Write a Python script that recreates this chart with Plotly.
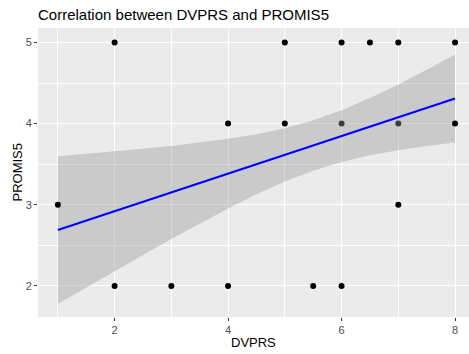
import plotly.graph_objects as go

# Observed points (DVPRS, PROMIS5)
dvprs = [2, 5, 6, 6.5, 7, 8, 4, 5, 8, 1, 7, 2, 3, 4, 5.5, 6]
promis5 = [5, 5, 5, 5, 5, 5, 4, 4, 4, 3, 3, 2, 2, 2, 2, 2]
# points that sit under the ribbon (look grey in the reference)
dvprs_under = [6, 7]
promis5_under = [4, 4]

# Linear fit and confidence band
fit_x = [1, 1.5, 2, 2.5, 3, 3.5, 4, 4.5, 5, 5.5, 6, 6.5, 7, 7.5, 8]
fit_y = [2.688, 2.804, 2.920, 3.036, 3.151, 3.267, 3.383, 3.499, 3.615, 3.730,
         3.846, 3.962, 4.078, 4.194, 4.310]
fit_upper = [3.598, 3.627, 3.658, 3.691, 3.725, 3.766, 3.813, 3.870, 3.944, 4.040,
             4.165, 4.314, 4.483, 4.664, 4.853]
fit_lower = [1.778, 1.981, 2.182, 2.381, 2.577, 2.768, 2.953, 3.128, 3.286, 3.420,
             3.527, 3.610, 3.673, 3.724, 3.767]

title = "Correlation between DVPRS and PROMIS5"
x_title = "DVPRS"
y_title = "PROMIS5"
font = "Liberation Sans, Arial, sans-serif"

fig = go.Figure()
fig.add_trace(go.Scatter(x=dvprs_under, y=promis5_under, mode="markers",
                         marker=dict(color="black", size=6), hoverinfo="skip"))
fig.add_trace(go.Scatter(x=fit_x, y=fit_lower, mode="lines", line=dict(width=0),
                         hoverinfo="skip"))
fig.add_trace(go.Scatter(x=fit_x, y=fit_upper, mode="lines", line=dict(width=0),
                         fill="tonexty", fillcolor="rgba(153,153,153,0.4)", hoverinfo="skip"))
fig.add_trace(go.Scatter(x=fit_x, y=fit_y, mode="lines", line=dict(color="#0000FF", width=2.2)))
fig.add_trace(go.Scatter(x=dvprs, y=promis5, mode="markers",
                         marker=dict(color="black", size=6)))

fig.update_layout(
    width=469, height=354,
    margin=dict(l=38, r=0, t=28, b=37, autoexpand=False),
    showlegend=False,
    paper_bgcolor="white",
    plot_bgcolor="#EBEBEB",
    font=dict(family=font, color="black"),
    title=dict(text=title, x=38/469, xanchor="left", xref="container",
               y=1 - 15/354, yanchor="middle", yref="container",
               font=dict(size=15, color="black", family=font)),
    annotations=[
        dict(text=x_title, xref="paper", yref="paper", x=0.5, y=-(342 - 317) / 289,
             xanchor="center", yanchor="middle", showarrow=False,
             font=dict(size=13, color="black", family=font)),
        dict(text=y_title, xref="paper", yref="paper", x=-(38 - 17) / 431, y=0.5,
             xanchor="center", yanchor="middle", showarrow=False, textangle=-90,
             font=dict(size=13, color="black", family=font)),
    ],
)
fig.update_xaxes(
    range=[0.65, 8.246], tickmode="array", tickvals=[2, 4, 6, 8],
    showgrid=True, gridcolor="white", gridwidth=1.1, zeroline=False,
    minor=dict(tickmode="array", tickvals=[1, 3, 5, 7], showgrid=True, gridcolor="white", gridwidth=0.5),
    ticks="outside", ticklen=3, tickcolor="#333333", tickwidth=1,
    tickfont=dict(size=11, color="#4D4D4D"),
    automargin=False, showline=False,
)
fig.update_yaxes(
    range=[1.617, 5.178], tickmode="array", tickvals=[2, 3, 4, 5],
    showgrid=True, gridcolor="white", gridwidth=1.1, zeroline=False,
    minor=dict(tickmode="array", tickvals=[2.5, 3.5, 4.5], showgrid=True, gridcolor="white", gridwidth=0.5),
    ticks="outside", ticklen=3, tickcolor="#333333", tickwidth=1,
    tickfont=dict(size=11, color="#4D4D4D"),
    automargin=False, showline=False,
)

fig.write_html("out.html", config={"displayModeBar": False},
               post_script="document.body.style.margin='0';document.body.style.overflow='hidden';")
